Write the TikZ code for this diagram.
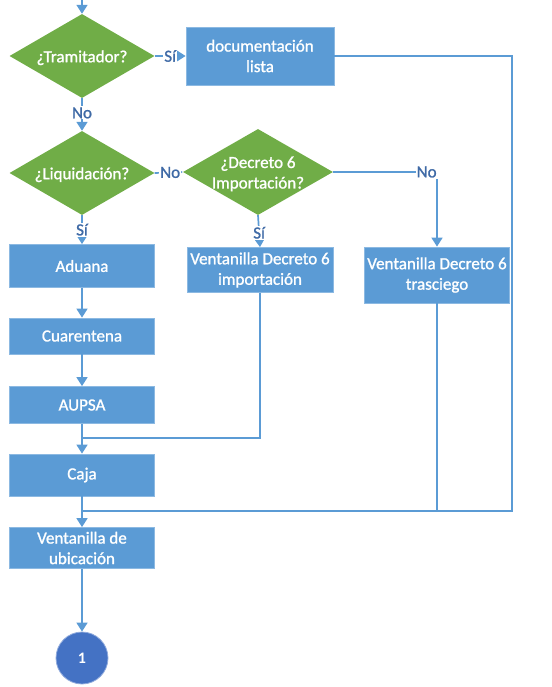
\documentclass[tikz,border=0pt]{standalone}
\usepackage{fontspec}
\setmainfont{Carlito}
\newfontfamily\heavyfont[FakeBold=1.2]{Carlito}
\usetikzlibrary{shapes.geometric,arrows.meta}
\definecolor{boxblue}{HTML}{5B9BD5}
\definecolor{decgreen}{HTML}{70AD47}
\definecolor{linkblue}{HTML}{5B9BD5}
\definecolor{labelblue}{HTML}{3F6AA6}
\definecolor{endblue}{HTML}{4472C4}
% question text that does not widen the diamond around it
\newcommand{\qtext}[1]{\smash{\makebox[0pt]{\raisebox{-0.38em}{\begin{tabular}{@{}c@{}}#1\end{tabular}}}}}
\tikzset{
  stepbox/.style={rectangle, fill=boxblue, draw=boxblue!70!white, line width=0.8pt,
    text=white, align=center, font=\heavyfont\fontsize{17}{20.5}\selectfont, inner sep=2pt},
  decision/.style={diamond, fill=decgreen, text=white, inner sep=0pt,
    minimum width=145pt, minimum height=84pt, font=\heavyfont\fontsize{17}{20.5}\selectfont},
  link/.style={draw=linkblue, line width=1.7pt},
  flow/.style={link, -{Triangle[width=11pt,length=9pt]}},
  lbl/.style={fill=white, text=labelblue, inner sep=1pt, font=\heavyfont\fontsize{17}{18}\selectfont},
}
\begin{document}
\begin{tikzpicture}[x=1pt,y=-1pt]
\useasboundingbox (0,0) rectangle (551,687);

% decisions
\node[decision] (tram) at (82,56) {\qtext{¿Tramitador?}};
\node[decision] (liq) at (82,173) {\qtext{¿Liquidación?}};
\node[decision, minimum width=150pt, minimum height=86pt] (dec) at (258,172) {\qtext{¿Decreto 6\\Importación?}};

% process boxes
\node[stepbox, minimum width=148pt, minimum height=58pt] (doc) at (260,56) {documentación\\lista};
\node[stepbox, minimum width=145pt, minimum height=43pt] (adu) at (82,266) {Aduana};
\node[stepbox, minimum width=146pt, minimum height=45pt] (vimp) at (260,270) {Ventanilla Decreto 6\\importación};
\node[stepbox, minimum width=145pt, minimum height=56pt] (vtra) at (437,275) {Ventanilla Decreto 6\\trasciego};
\node[stepbox, minimum width=145pt, minimum height=36pt] (cua) at (82,336) {Cuarentena};
\node[stepbox, minimum width=145pt, minimum height=37pt] (aup) at (82,405) {AUPSA};
\node[stepbox, minimum width=145pt, minimum height=42pt] (caja) at (82,475) {Caja};
\node[stepbox, minimum width=145pt, minimum height=41pt] (ubi) at (82,548) {Ventanilla de\\ubicación};

% end connector
\node[circle, fill=endblue, draw=endblue!60!white, line width=0.8pt, minimum size=52pt,
  text=white, font=\fontsize{16}{16}\selectfont\bfseries] (fin) at (82,658) {1};

% junction points
\coordinate (top) at (82,-4);
\coordinate (rc) at (512,511);
\coordinate (mj) at (82,511);
\coordinate (m2) at (82,438);

% connectors
\draw[flow] (top) -- (tram.north);
\draw[flow] (tram.east) -- node[lbl, pos=0.5] {Sí} (doc.west);
\draw[flow] (tram.south) -- node[lbl, pos=0.45] {No} (liq.north);
\draw[flow] (liq.east) -- node[lbl, pos=0.55] {No} (dec.west);
\draw[flow] (liq.south) -- node[lbl, pos=0.5] {Sí} (adu.north);
\draw[flow] (dec.south) -- node[lbl, pos=0.55] {Sí} (vimp.north);
\draw[flow] (dec.east) -| node[lbl, pos=0.45] {No} (vtra.north);
\draw[flow] (adu) -- (cua);
\draw[flow] (cua) -- (aup);
\draw[flow] (aup) -- (caja);
\draw[link] (vimp.south) |- (m2);
\draw[link] (doc.east) -| (rc) -- (mj);
\draw[link] (vtra.south) |- (mj);
\draw[flow] (caja) -- (ubi);
\draw[flow] (ubi) -- (fin);
\end{tikzpicture}
\end{document}
